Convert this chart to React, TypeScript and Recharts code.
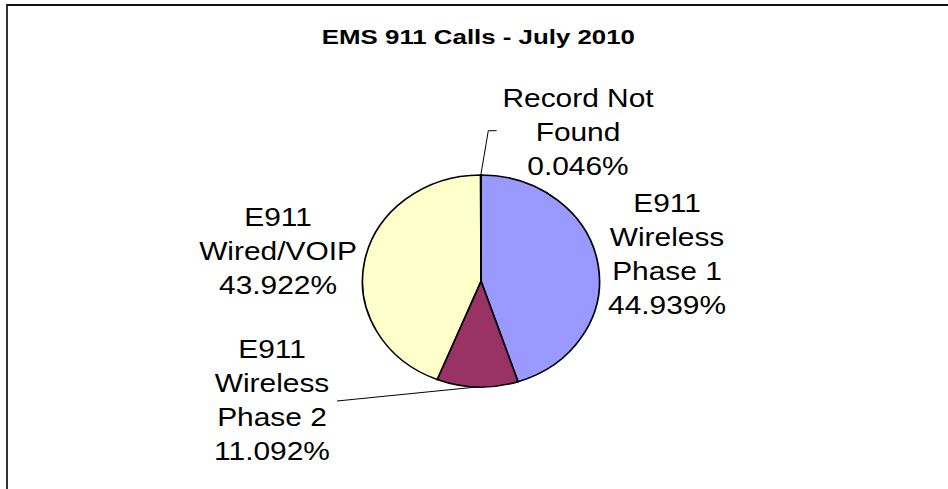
import React from 'react';
import { PieChart, Pie, Cell } from 'recharts';

const categories = ['E911 Wireless Phase 1', 'E911 Wireless Phase 2', 'E911 Wired/VOIP', 'Record Not Found'];
const shares = [44.939, 11.092, 43.922, 0.046];
const colors = ['#9999FF', '#993366', '#FFFFCC', '#CCFFFF'];

const data = categories.map((name, i) => ({ name, value: shares[i] }));

// pie geometry (the picture is a little wider than tall)
const CX = 481;
const CY = 281;
const R = 106;
const SX = 1.118;
const FONT = 'Arial, "Liberation Sans", sans-serif';

// label block positions, relative to the pie centre
const labelLayout: { dx: number; dy: number; leader?: number[][] }[] = [
  { dx: 186, dy: -78 },
  { dx: -209, dy: 68, leader: [[-144, 120]] },
  { dx: -203, dy: -64 },
  { dx: 97, dy: -183.5, leader: [[7.3, -150.3], [15.7, -150.3]] },
];

const wrap = (s: string, max = 10) => {
  const out: string[] = [];
  let cur = '';
  s.split(' ').forEach(w => {
    const next = cur ? cur + ' ' + w : w;
    if (next.length > max && cur) {
      out.push(cur);
      cur = w;
    } else cur = next;
  });
  if (cur) out.push(cur);
  return out;
};

const renderLabel = (props: any) => {
  const { cx, cy, midAngle, outerRadius, index, name, value } = props;
  const lay = labelLayout[index];
  const lines = [...wrap(name), `${value.toFixed(3)}%`];
  const fs = 26;
  const gap = 34;
  const rad = (-midAngle * Math.PI) / 180;
  const sx = cx + outerRadius * SX * Math.cos(rad);
  const sy = cy + outerRadius * Math.sin(rad);
  return (
    <g key={`lab-${index}`}>
      {lay.leader && (
        <polyline
          points={[[sx, sy], ...lay.leader.map(p => [cx + p[0], cy + p[1]])].map(p => p.join(',')).join(' ')}
          fill="none"
          stroke="#000"
          strokeWidth={1}
        />
      )}
      {lines.map((t, j) => (
        <text
          key={j}
          transform={`translate(${cx + lay.dx} ${cy + lay.dy + j * gap + fs * 0.358}) scale(1.15 1)`}
          textAnchor="middle"
          fontFamily={FONT}
          fontSize={fs}
          fill="#000"
        >
          {t}
        </text>
      ))}
    </g>
  );
};

const App: React.FC = () => {
  return (
    <div style={{ position: 'absolute', left: 0, top: 0, width: 948, height: 489, background: '#fff', overflow: 'hidden' }}>
      <style>{`.recharts-sector { transform: scaleX(${SX}); transform-origin: ${CX}px ${CY}px; transform-box: view-box; }`}</style>
      {/* frame: only top and left edges are visible */}
      <div style={{ position: 'absolute', left: 6, top: 4, right: -10, bottom: -10, borderTop: '2px solid #111', borderLeft: '2px solid #333' }} />
      <div
        style={{
          position: 'absolute',
          left: 6,
          width: 948,
          top: 24,
          textAlign: 'center',
          fontFamily: FONT,
          fontWeight: 'bold',
          fontSize: 21,
          lineHeight: '26px',
          transform: 'scaleX(1.23)',
          transformOrigin: `${CX}px 0`,
        }}
      >
        EMS 911 Calls - July 2010
      </div>
      <div style={{ position: 'absolute', left: 0, top: 0 }}>
        <PieChart width={948} height={489} margin={{ top: 0, right: 0, bottom: 0, left: 0 }}>
          <Pie
            data={data}
            dataKey="value"
            nameKey="name"
            cx={CX}
            cy={CY}
            outerRadius={R}
            startAngle={90}
            endAngle={-270}
            stroke="#000"
            strokeWidth={1.5}
            label={renderLabel}
            labelLine={false}
            isAnimationActive={false}
          >
            {data.map((d, i) => (
              <Cell key={d.name} fill={colors[i]} />
            ))}
          </Pie>
        </PieChart>
      </div>
    </div>
  );
};

export default App;
